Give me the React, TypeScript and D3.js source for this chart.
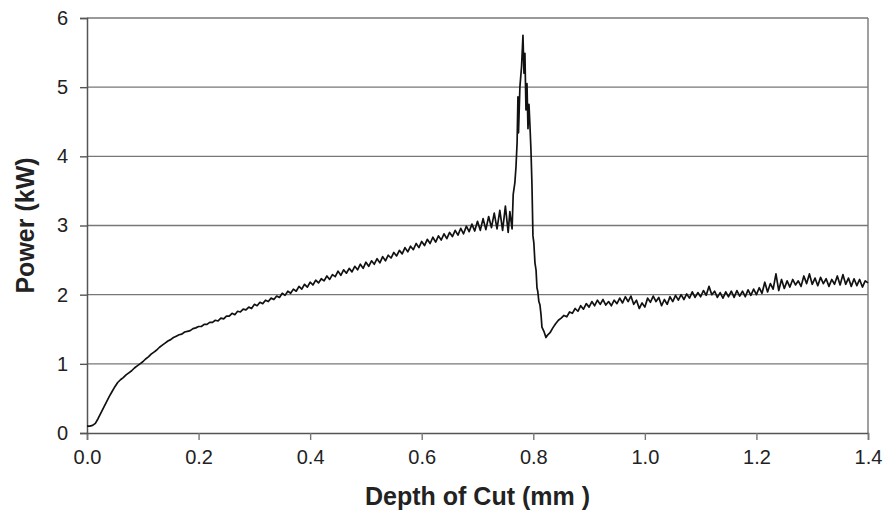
import React, { useEffect, useRef } from 'react';
import * as d3 from 'd3';

const rampStart = 0;
const rampStep = 0.005;
const rampPower = [
  0.10, 0.10, 0.11, 0.14, 0.21, 0.29, 0.37, 0.45, 0.53, 0.60,
  0.67, 0.73, 0.77, 0.80, 0.84, 0.87, 0.90, 0.94, 0.97, 1.00,
  1.03, 1.07, 1.10, 1.14, 1.17, 1.20, 1.24, 1.27, 1.30, 1.33,
  1.35, 1.38, 1.40, 1.42, 1.43, 1.46, 1.47, 1.48, 1.51, 1.52,
  1.54, 1.54, 1.57, 1.57, 1.60, 1.60, 1.63, 1.62, 1.66, 1.65,
  1.69, 1.69, 1.73, 1.71, 1.76, 1.75, 1.79, 1.78, 1.82, 1.80,
  1.86, 1.84, 1.89, 1.87, 1.92, 1.90, 1.95, 1.93, 1.98, 1.96,
  2.02, 1.99, 2.05, 2.02, 2.08, 2.05, 2.12, 2.08, 2.15, 2.11,
  2.18, 2.14, 2.21, 2.17, 2.23, 2.20, 2.27, 2.22, 2.29, 2.26,
  2.34, 2.28, 2.36, 2.31, 2.38, 2.33, 2.41, 2.36, 2.44, 2.38,
  2.47, 2.41, 2.49, 2.44, 2.52, 2.46, 2.55, 2.49, 2.57, 2.53,
  2.61, 2.56, 2.64, 2.59, 2.68, 2.62, 2.70, 2.65, 2.74, 2.68,
  2.77, 2.71, 2.80, 2.74, 2.83, 2.76, 2.85, 2.79, 2.88, 2.81,
  2.90, 2.84, 2.93, 2.86, 2.96, 2.88, 2.99, 2.91, 3.02, 2.92,
  3.06, 2.93, 3.10, 2.94, 3.13, 2.97, 3.18, 2.95, 3.22, 2.93,
  3.28, 2.90,
];

// the spike around 0.78 mm, [depth, power]
const spikePoints: [number, number][] = [
  [0.758, 3.20], [0.762, 2.95], [0.764, 3.45], [0.767, 3.62], [0.769, 3.85],
  [0.771, 4.20], [0.7725, 4.86], [0.7735, 4.34], [0.7745, 4.60], [0.776, 5.00],
  [0.779, 5.30], [0.7815, 5.75], [0.7833, 5.20], [0.785, 5.49], [0.7869, 4.67],
  [0.7887, 5.05], [0.7905, 4.40], [0.7923, 4.75], [0.794, 4.45], [0.7958, 4.10],
  [0.7976, 3.60], [0.7994, 2.85], [0.801, 2.75], [0.803, 2.46], [0.805, 2.35],
  [0.8066, 2.10], [0.808, 2.05], [0.810, 1.90], [0.812, 1.85], [0.814, 1.70],
  [0.8155, 1.53], [0.819, 1.47], [0.8227, 1.38], [0.826, 1.42],
];

const tailStart = 0.83;
const tailStep = 0.005;
const tailPower = [
  1.45, 1.52, 1.58, 1.63, 1.66, 1.70, 1.68, 1.75, 1.73, 1.80,
  1.76, 1.84, 1.79, 1.87, 1.82, 1.90, 1.84, 1.92, 1.86, 1.93,
  1.85, 1.90, 1.84, 1.92, 1.87, 1.95, 1.88, 1.97, 1.90, 1.98,
  1.86, 1.92, 1.80, 1.88, 1.82, 1.95, 1.89, 1.98, 1.90, 1.96,
  1.84, 1.93, 1.86, 1.97, 1.90, 1.99, 1.92, 2.00, 1.93, 2.01,
  1.95, 2.04, 1.96, 2.03, 1.97, 2.06, 1.99, 2.12, 2.00, 2.05,
  1.96, 2.03, 1.95, 2.04, 1.97, 2.05, 1.96, 2.06, 1.98, 2.05,
  1.97, 2.07, 1.99, 2.08, 2.00, 2.10, 2.02, 2.18, 2.04, 2.16,
  2.08, 2.30, 2.06, 2.22, 2.09, 2.20, 2.11, 2.22, 2.14, 2.20,
  2.12, 2.27, 2.16, 2.30, 2.15, 2.24, 2.13, 2.25, 2.16, 2.23,
  2.12, 2.22, 2.15, 2.27, 2.14, 2.29, 2.15, 2.24, 2.12, 2.23,
  2.13, 2.22, 2.11, 2.20, 2.17,
];

const xTicks = [0, 0.2, 0.4, 0.6, 0.8, 1.0, 1.2, 1.4];
const yTicks = [0, 1, 2, 3, 4, 5, 6];

const App = () => {
  const ref = useRef<SVGSVGElement>(null);

  useEffect(() => {
    if (!ref.current) return;
    const svg = d3.select(ref.current);
    svg.selectAll('*').remove();

    const margin = { top: 18, right: 16, bottom: 80, left: 87 };
    const width = 884 - margin.left - margin.right;
    const height = 513 - margin.top - margin.bottom;
    const font = 'Arial, "Liberation Sans", sans-serif';

    const points: [number, number][] = [
      ...rampPower.map((p, i) => [rampStart + i * rampStep, p] as [number, number]),
      ...spikePoints,
      ...tailPower.map((p, i) => [tailStart + i * tailStep, p] as [number, number]),
    ];

    const x = d3.scaleLinear().domain([0, 1.4]).range([0, width]);
    const y = d3.scaleLinear().domain([0, 6]).range([height, 0]);

    const g = svg.append('g').attr('transform', `translate(${margin.left},${margin.top})`);

    // horizontal gridlines
    g.selectAll('.grid')
      .data(yTicks.filter(d => d > 0))
      .enter().append('line')
      .attr('x1', 0).attr('x2', width)
      .attr('y1', d => y(d)).attr('y2', d => y(d))
      .attr('stroke', '#777').attr('stroke-width', 1.4);

    // right border
    g.append('line')
      .attr('x1', width).attr('x2', width)
      .attr('y1', 0).attr('y2', height)
      .attr('stroke', '#777').attr('stroke-width', 1.4);

    // x axis
    const xAxis = g.append('g')
      .attr('transform', `translate(0,${height})`)
      .call(d3.axisBottom(x).tickValues(xTicks).tickSize(7).tickPadding(10).tickFormat(d3.format('.1f')));
    xAxis.select('.domain').attr('stroke', '#555').attr('stroke-width', 1.5);
    xAxis.selectAll('.tick line').attr('stroke', '#777').attr('stroke-width', 1.4);
    xAxis.selectAll('text').attr('font-size', 20).attr('font-family', font).attr('fill', '#222');

    // y axis
    const yAxis = g.append('g')
      .call(d3.axisLeft(y).tickValues(yTicks).tickSize(7).tickPadding(12).tickFormat(d3.format('d')));
    yAxis.select('.domain').attr('stroke', '#555').attr('stroke-width', 1.5);
    yAxis.selectAll('.tick line').attr('stroke', '#555').attr('stroke-width', 1.4);
    yAxis.selectAll('text').attr('font-size', 20).attr('font-family', font).attr('fill', '#222');

    // power trace
    g.append('path')
      .datum(points)
      .attr('fill', 'none')
      .attr('stroke', '#111')
      .attr('stroke-width', 1.7)
      .attr('stroke-linejoin', 'round')
      .attr('d', d3.line<[number, number]>().x(d => x(d[0])).y(d => y(d[1])));

    // axis titles
    svg.append('text')
      .attr('x', margin.left + width / 2)
      .attr('y', 505)
      .attr('text-anchor', 'middle')
      .attr('font-family', font)
      .attr('font-weight', 'bold')
      .attr('font-size', 25)
      .attr('fill', '#222')
      .text('Depth of Cut (mm )');

    svg.append('text')
      .attr('transform', `translate(34,${margin.top + height / 2}) rotate(-90)`)
      .attr('text-anchor', 'middle')
      .attr('font-family', font)
      .attr('font-weight', 'bold')
      .attr('font-size', 25)
      .attr('fill', '#222')
      .text('Power (kW)');
  }, []);

  return (
    <svg
      ref={ref}
      width={884}
      height={513}
      style={{ position: 'absolute', left: 0, top: 0, background: '#fff' }}
    />
  );
};

export default App;
